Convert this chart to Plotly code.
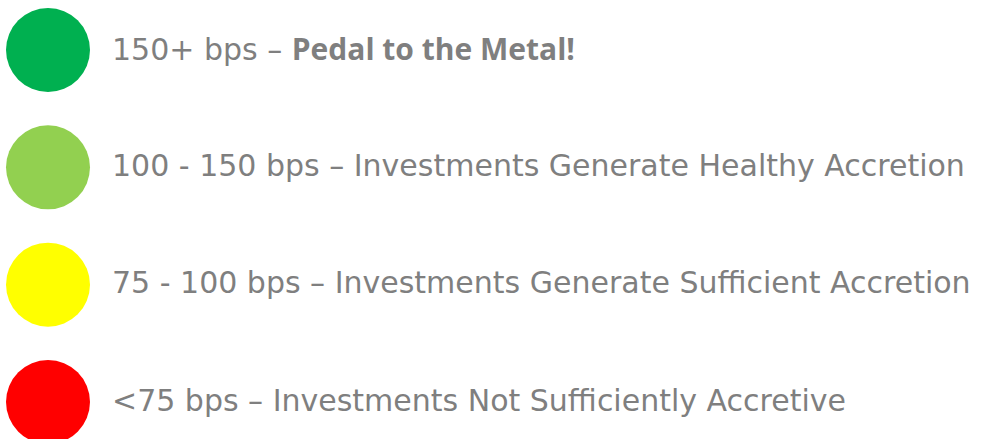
import plotly.graph_objects as go

# Data
tiers = ["150+ bps", "100 - 150 bps", "75 - 100 bps", "<75 bps"]
descriptions = [
    "<span style=\"font-family:'Open Sans'\"><b>Pedal to the Metal!</b></span>",
    "Investments Generate Healthy Accretion",
    "Investments Generate Sufficient Accretion",
    "Investments Not Sufficiently Accretive",
]
colors = ["#00B050", "#92D050", "#FFFF00", "#FF0000"]
order = [0, 1, 2, 3]

W, H = 984, 439
TEXT_COLOR = "#7F7F7F"
FONT = "DejaVu Sans"

fig = go.Figure()
fig.add_trace(go.Scatter(
    x=[0] * len(order),
    y=order,
    mode="markers",
    marker=dict(size=84, color=colors, line=dict(width=0)),
    hoverinfo="skip",
    showlegend=False,
))

for i, (t, d) in enumerate(zip(tiers, descriptions)):
    fig.add_annotation(
        x=0, y=order[i], xref="x", yref="y",
        text=f"{t} – {d}",
        showarrow=False, xanchor="left", yanchor="middle",
        xshift=62, yshift=2,
        font=dict(family=FONT, size=30, color=TEXT_COLOR),
    )

# y: 0 -> 50 px, 3 -> 402 px
ppu = (402 - 50) / 3
y_top = 0 - 50 / ppu
y_bot = y_top + H / ppu
x_left = -48
fig.update_layout(
    width=W, height=H,
    margin=dict(l=0, r=0, t=0, b=0),
    paper_bgcolor="white", plot_bgcolor="white",
    xaxis=dict(range=[x_left, x_left + W], visible=False, fixedrange=True),
    yaxis=dict(range=[y_bot, y_top], visible=False, fixedrange=True),
)

fig.write_html(
    "out.html",
    config={"displayModeBar": False},
    post_script="document.body.style.margin='0';document.body.style.overflow='hidden';",
)
